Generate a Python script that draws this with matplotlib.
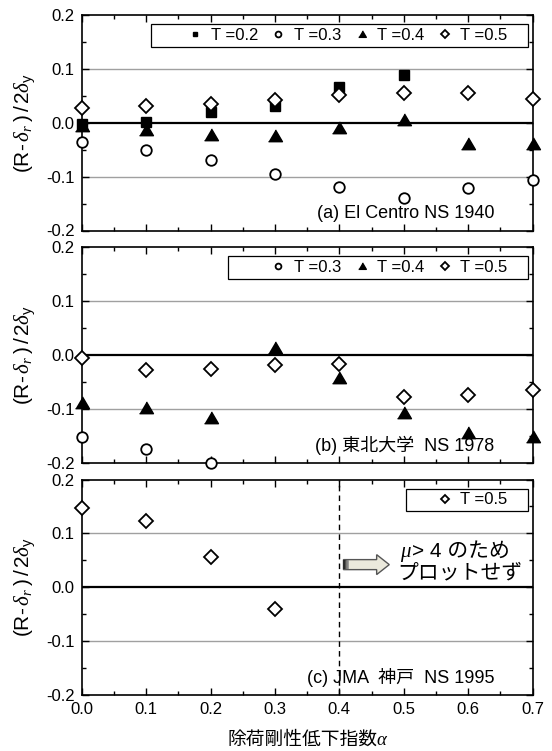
import matplotlib
matplotlib.use("Agg")
import matplotlib.pyplot as plt
import numpy as np
from matplotlib.patches import Rectangle, FancyArrow
from matplotlib.ticker import MultipleLocator, FormatStrFormatter
from matplotlib.offsetbox import TextArea, HPacker, AnnotationBbox

plt.rcParams['font.family'] = ['Liberation Sans', 'Noto Sans CJK JP', 'DejaVu Sans']
plt.rcParams['mathtext.fontset'] = 'custom'
plt.rcParams['mathtext.rm'] = 'Liberation Sans'
plt.rcParams['mathtext.it'] = 'Liberation Serif:italic'
plt.rcParams['axes.unicode_minus'] = False

# ---------------- data ----------------
alpha = [0.0, 0.1, 0.2, 0.3, 0.4, 0.5, 0.6, 0.7]

# (a) El Centro NS 1940
a_T02 = [-0.003, 0.002, 0.020, 0.031, 0.067, 0.088]
a_T03 = [-0.035, -0.051, -0.069, -0.095, -0.120, -0.139, -0.122, -0.106]
a_T04 = [-0.006, -0.013, -0.022, -0.024, -0.009, 0.006, -0.040, -0.040]
a_T05 = [0.027, 0.032, 0.035, 0.043, 0.052, 0.055, 0.055, 0.044]

# (b) 東北大学 NS 1978
b_T03 = [-0.152, -0.175, -0.200]
b_T04 = [-0.089, -0.099, -0.116, 0.014, -0.043, -0.108, -0.144, -0.152]
b_T05 = [-0.005, -0.027, -0.025, -0.019, -0.016, -0.078, -0.074, -0.064]

# (c) JMA 神戸 NS 1995
c_T05 = [0.148, 0.123, 0.057, -0.040]

series_labels = ['T =0.2', 'T =0.3', 'T =0.4', 'T =0.5']
panel_titles = ['(a) El Centro NS 1940', '(b) 東北大学  NS 1978', '(c) JMA  神戸  NS 1995']
ytick_vals = [-0.2, -0.1, 0.0, 0.1, 0.2]
xtick_vals = [0.0, 0.1, 0.2, 0.3, 0.4, 0.5, 0.6, 0.7]
cutoff_alpha = 0.4

# ---------------- styles ----------------
tri = [(-1, -0.75), (1, -0.75), (0, 0.95)]
sty = {
    'T =0.2': dict(marker='s', ms=6.5, mfc='black', mec='black', mew=1.0),
    'T =0.3': dict(marker='o', ms=7.6, mfc='white', mec='black', mew=1.3),
    'T =0.4': dict(marker=tri, ms=10.0, mfc='black', mec='black', mew=1.0),
    'T =0.5': dict(marker='D', ms=6.9, mfc='white', mec='black', mew=1.3),
}

W, H = 552, 751
fig = plt.figure(figsize=(W / 100, H / 100), dpi=100)
left = 81.7 / W
width = (532.5 - 81.7) / W
ph = 215.5 / H
bottoms = [1 - 230.5 / H, 1 - 462.8 / H, 1 - 695 / H]
axes = [fig.add_axes([left, b, width, ph]) for b in bottoms]

ylab = r'(R-$\,\delta_{r}\;$)$\,$/$\,$2$\delta_{\mathrm{y}}$'


def style_axis(ax, show_x):
    ax.set_xlim(0, 0.7)
    ax.set_ylim(-0.2, 0.2)
    ax.set_yticks(ytick_vals)
    ax.set_xticks(xtick_vals)
    ax.xaxis.set_minor_locator(MultipleLocator(0.05))
    ax.yaxis.set_minor_locator(MultipleLocator(0.05))
    ax.yaxis.set_major_formatter(FormatStrFormatter('%.1f'))
    ax.xaxis.set_major_formatter(FormatStrFormatter('%.1f'))
    ax.tick_params(which='both', direction='in', top=True, right=True,
                   labelsize=12, width=1.0)
    ax.tick_params(which='major', length=5, pad=5)
    ax.tick_params(which='minor', length=3)
    if not show_x:
        ax.tick_params(axis='x', labelbottom=False)
    for s in ax.spines.values():
        s.set_linewidth(1.2)
    for yv in (0.1, -0.1):
        ax.axhline(yv, color='#a0a0a0', lw=1.0, zorder=1)
    ax.axhline(0.0, color='black', lw=1.6, zorder=1.5)
    ax.set_ylabel(ylab, fontsize=15, va='center')
    ax.yaxis.set_label_coords(-0.125, 0.5)


def add_legend(ax, handles, x0):
    x1 = 0.990
    y0, y1 = 0.852, 0.958
    ax.add_patch(Rectangle((x0, y0), x1 - x0, y1 - y0, transform=ax.transAxes,
                           facecolor='white', edgecolor='black', lw=0.9, zorder=6))
    leg = ax.legend(handles=handles, loc='center right', bbox_to_anchor=(0.945, (y0 + y1) / 2),
                    ncol=len(handles), frameon=False, fontsize=12, markerscale=0.55,
                    handlelength=1.0, handletextpad=0.45, columnspacing=0.7,
                    borderpad=0, borderaxespad=0)
    leg.set_zorder(7)


def plot_series(ax, vals, key):
    return ax.plot(alpha[:len(vals)], vals, ls='none', label=key, clip_on=False,
                   zorder=5, **sty[key])[0]


# ---- panel (a)
ax = axes[0]
style_axis(ax, False)
h = [plot_series(ax, a_T02, 'T =0.2'), plot_series(ax, a_T03, 'T =0.3'),
     plot_series(ax, a_T04, 'T =0.4'), plot_series(ax, a_T05, 'T =0.5')]
add_legend(ax, h, 0.154)
ax.text(0.915, 0.079, panel_titles[0], transform=ax.transAxes, ha='right', va='center', fontsize=13)

# ---- panel (b)
ax = axes[1]
style_axis(ax, False)
h = [plot_series(ax, b_T03, 'T =0.3'), plot_series(ax, b_T04, 'T =0.4'),
     plot_series(ax, b_T05, 'T =0.5')]
add_legend(ax, h, 0.3245)
ax.text(0.915, 0.079, panel_titles[1], transform=ax.transAxes, ha='right', va='center', fontsize=13)

# ---- panel (c)
ax = axes[2]
style_axis(ax, True)
h = [plot_series(ax, c_T05, 'T =0.5')]
add_legend(ax, h, 0.719)
ax.axvline(cutoff_alpha, color='black', lw=1.0, ls=(0, (4, 3)), zorder=2)
ax.text(0.915, 0.079, panel_titles[2], transform=ax.transAxes, ha='right', va='center', fontsize=13,
        zorder=4)
ax.set_xlabel('除荷剛性低下指数α', fontsize=13.5, labelpad=10,
              family=['Liberation Serif', 'Noto Sans CJK JP'], style='italic')

# arrow "μ>4 のためプロットせず"
ya = 0.042
arr = FancyArrow(0.4065, ya, 0.0711, 0.0, width=0.0186, head_width=0.037,
                 head_length=0.0196, length_includes_head=True,
                 facecolor='#ebe9dc', edgecolor='#555555', lw=1.0, zorder=6)
ax.add_patch(arr)
for xs, c in [(0.4075, '#222222'), (0.4095, '#222222'), (0.4115, '#555555'), (0.4132, '#888888')]:
    ax.plot([xs, xs], [ya - 0.0085, ya + 0.0085], color=c, lw=1.1, zorder=7, solid_capstyle='butt')

line1 = HPacker(children=[
    TextArea('μ', textprops=dict(fontsize=15, family=['Liberation Serif'], style='italic')),
    TextArea('> 4 のため', textprops=dict(fontsize=15))], sep=1, pad=0, align='baseline')
ax.add_artist(AnnotationBbox(line1, (0.494, 0.066), xycoords='data', box_alignment=(0, 0.5),
                             frameon=False, pad=0, zorder=7, annotation_clip=False))
ax.text(0.4896, 0.0266, 'プロットせず', fontsize=15, ha='left', va='center', zorder=7)

fig.savefig('out.png', dpi=100)
